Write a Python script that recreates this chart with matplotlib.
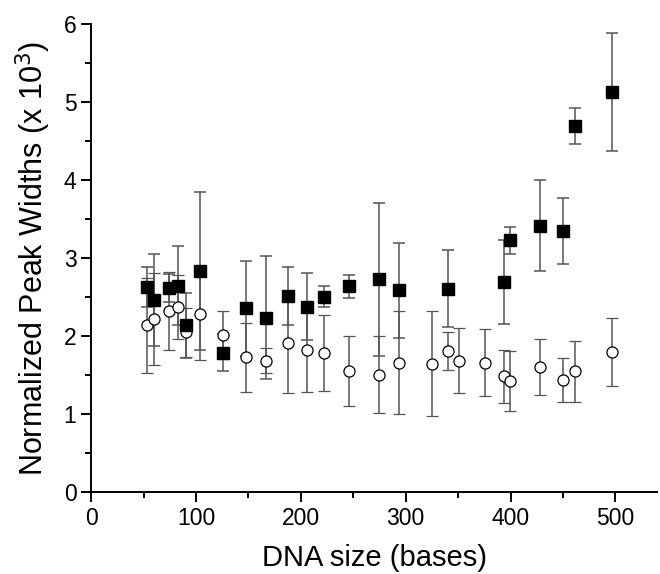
import matplotlib
matplotlib.use("Agg")
import matplotlib.pyplot as plt
from matplotlib.ticker import MultipleLocator

plt.rcParams['font.family'] = ['Liberation Sans', 'DejaVu Sans']

# ---- square series (filled) ----
sq_size = [53.4, 59.8, 74.7, 82.6, 90.6, 103.9, 125.5, 147.8, 166.5, 188.1,
           206.2, 222.1, 246.0, 274.9, 293.9, 340.0, 393.4, 399.4, 428.3,
           450.0, 461.4, 496.4]
sq_width = [2.63, 2.47, 2.62, 2.65, 2.14, 2.84, 1.79, 2.36, 2.24, 2.52,
            2.38, 2.51, 2.64, 2.73, 2.59, 2.61, 2.70, 3.23, 3.42,
            3.35, 4.70, 5.13]
sq_err = [0.26, 0.59, 0.18, 0.51, 0.42, 1.01, 0.24, 0.61, 0.79, 0.37,
          0.43, 0.13, 0.15, 0.98, 0.61, 0.49, 0.54, 0.17, 0.58,
          0.42, 0.23, 0.76]

# ---- circle series (open) ----
ci_size = [53.4, 59.8, 74.7, 82.6, 90.6, 103.9, 125.5, 147.8, 166.5, 188.1,
           206.2, 222.1, 246.0, 274.9, 293.9, 324.8, 340.0, 350.5, 375.6,
           393.4, 399.4, 428.3, 450.0, 461.4, 496.4]
ci_width = [2.14, 2.22, 2.32, 2.37, 2.05, 2.29, 2.02, 1.73, 1.69, 1.91,
            1.82, 1.79, 1.56, 1.51, 1.66, 1.65, 1.81, 1.69, 1.66,
            1.49, 1.43, 1.61, 1.44, 1.55, 1.80]
ci_err = [0.61, 0.59, 0.50, 0.41, 0.31, 0.59, 0.31, 0.44, 0.16, 0.64,
          0.53, 0.49, 0.45, 0.49, 0.66, 0.67, 0.24, 0.42, 0.43,
          0.34, 0.38, 0.36, 0.28, 0.39, 0.44]

fig = plt.figure(figsize=(6.6, 5.74), dpi=100)
ax = fig.add_axes([0.138, 0.142, 0.858, 0.816])

ax.errorbar(ci_size, ci_width, yerr=ci_err, fmt='o', ms=8,
            mfc='white', mec='black', mew=0.9,
            ecolor='#555555', elinewidth=1.1, capsize=4.5, capthick=1.1)
ax.errorbar(sq_size, sq_width, yerr=sq_err, fmt='s', ms=8,
            mfc='black', mec='black',
            ecolor='#555555', elinewidth=1.1, capsize=4.5, capthick=1.1)

ax.set_xlim(0, 540)
ax.set_ylim(0, 6)
ax.xaxis.set_major_locator(MultipleLocator(100))
ax.xaxis.set_minor_locator(MultipleLocator(50))
ax.yaxis.set_major_locator(MultipleLocator(1))
ax.yaxis.set_minor_locator(MultipleLocator(0.5))

ax.spines['top'].set_visible(False)
ax.spines['right'].set_visible(False)
for s in ['left', 'bottom']:
    ax.spines[s].set_linewidth(1.4)
ax.tick_params(which='major', direction='out', length=7, width=1.4,
               labelsize=16.5)
ax.tick_params(which='minor', direction='out', length=4, width=1.4)

ax.set_xlabel('DNA size (bases)', fontsize=21, labelpad=10)
ax.set_ylabel('Normalized Peak Widths (x 10$^3$)', fontsize=22, labelpad=8)

plt.savefig('out.png', dpi=100)
